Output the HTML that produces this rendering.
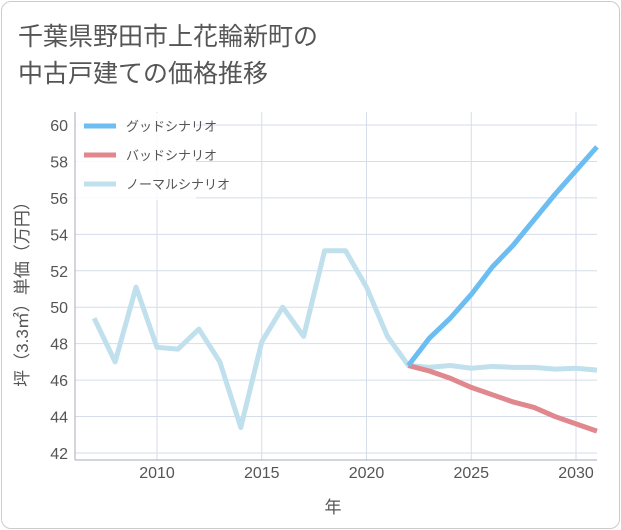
<!DOCTYPE html>
<html><head><meta charset="utf-8"><style>
body{margin:0;background:#fff;font-family:"Liberation Sans","Noto Sans CJK JP",sans-serif;}
#card{position:absolute;left:1px;top:1px;width:617px;height:526px;border:1px solid #ccc;border-radius:10px;background:#fff;}
.t{position:absolute;left:18px;font-size:25px;color:#555;}
</style></head><body>
<div id="card"></div>
<div class="t" style="top:17px">千葉県野田市上花輪新町の</div>
<div class="t" style="top:54px">中古戸建ての価格推移</div>
<svg id="c" width="621" height="530" style="position:absolute;left:0;top:0"></svg>
<script>
const years=[2007,2008,2009,2010,2011,2012,2013,2014,2015,2016,2017,2018,2019,2020,2021,2022,2023,2024,2025,2026,2027,2028,2029,2030,2031];
const normal=[49.4,47.0,51.1,47.8,47.7,48.8,47.0,43.4,48.1,50.0,48.4,53.1,53.1,51.1,48.4,46.8,46.7,46.8,46.65,46.75,46.7,46.7,46.6,46.65,46.55];
const fYears=[2022,2023,2024,2025,2026,2027,2028,2029,2030,2031];
const good=[46.8,48.3,49.4,50.7,52.2,53.4,54.8,56.2,57.5,58.8];
const bad=[46.8,46.5,46.1,45.6,45.2,44.8,44.5,44.0,43.6,43.2];
const yTicks=[42,44,46,48,50,52,54,56,58,60];
const xTicks=[2010,2015,2020,2025,2030];
const legendLabels=["グッドシナリオ","バッドシナリオ","ノーマルシナリオ"];
const NS="http://www.w3.org/2000/svg";
const svg=document.getElementById('c');
const L=75,R=597,T=112,B=460;
const x=v=>157+(v-2010)*(576-157)/20;
const y=v=>453-(v-42)*(453-125)/18;
function mk(t,a){const e=document.createElementNS(NS,t);for(const k in a)e.setAttribute(k,a[k]);svg.appendChild(e);return e;}
for(const v of yTicks){
 const g=mk('line',{x1:L,x2:R,y1:y(v),y2:y(v),stroke:'#d5dde8','stroke-width':1});
 
 
 const t=mk('text',{x:68,y:y(v)+6,'text-anchor':'end','font-size':16,fill:'#555'});
 t.textContent=v;
 
 
}
for(const v of xTicks){
 const g=mk('line',{x1:x(v),x2:x(v),y1:T,y2:B,stroke:'#d5dde8','stroke-width':1});
 
 
 const t=mk('text',{x:x(v),y:478,'text-anchor':'middle','font-size':16,fill:'#555'});
 t.textContent=v;
 
 
}
const ax=mk('line',{x1:L,x2:L,y1:T,y2:B,stroke:'#aab','stroke-width':1});


const ax2=mk('line',{x1:L,x2:R,y1:B,y2:B,stroke:'#aab','stroke-width':1});


function line(xs,vs,col,name){
 const p=mk('polyline',{points:xs.map((d,i)=>x(d)+','+y(vs[i])).join(' '),fill:'none',stroke:col,'stroke-width':5,'stroke-linejoin':'round'});
 
 
}
line(years,normal,'#bfe0ec','normal-scenario-line');
line(fYears,bad,'#e0888e','bad-scenario-line');
line(fYears,good,'#6cbdf2','good-scenario-line');
const lb=mk('rect',{x:76,y:113,width:120,height:87,fill:'#fff','fill-opacity':0.85});


const cols=['#6cbdf2','#e0888e','#bfe0ec'];
legendLabels.forEach((s,i)=>{
 const yy=126+i*29;
 const l=mk('line',{x1:84,x2:116,y1:yy,y2:yy,stroke:cols[i],'stroke-width':5});
 
 
 const t=mk('text',{x:126,y:yy+5,'font-size':13,fill:'#555'});
 t.textContent=s;
 
 
});
const yt=mk('text',{x:0,y:0,'font-size':17,fill:'#555','text-anchor':'middle',transform:'translate(28,290) rotate(-90)'});
yt.textContent='坪（3.3㎡）単価（万円）';


const xt=mk('text',{x:333,y:513,'font-size':17,fill:'#555','text-anchor':'middle'});
xt.textContent='年';


</script>
</body></html>
